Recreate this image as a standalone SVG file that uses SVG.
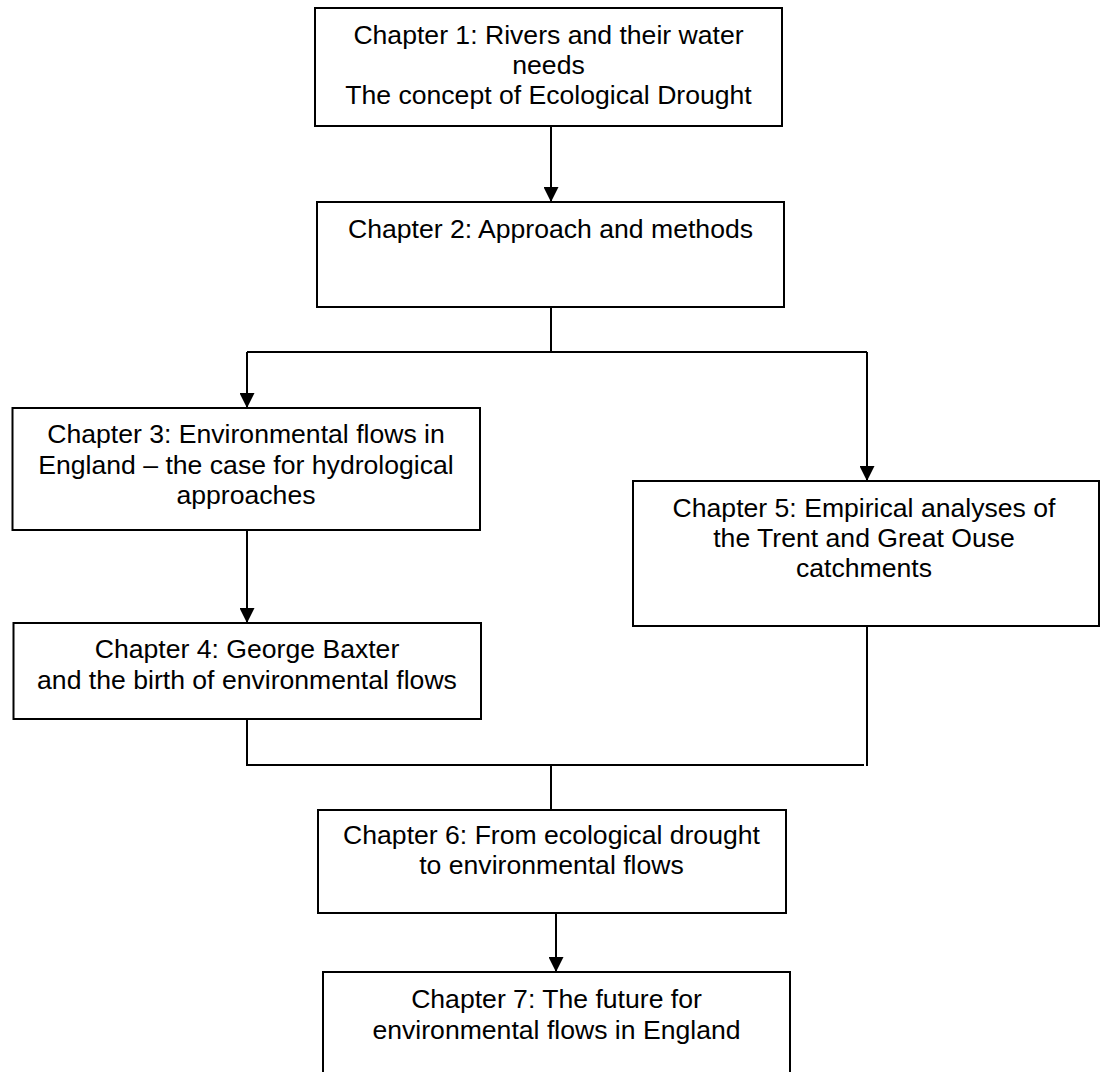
<svg xmlns="http://www.w3.org/2000/svg" width="1104" height="1072" viewBox="0 0 1104 1072">
<style>
.box{fill:#fff;stroke:#000;stroke-width:2}
.t{font-family:"Liberation Sans",Arial,sans-serif;font-size:26.6px;fill:#000;text-anchor:middle}
.c{fill:none;stroke:#000;stroke-width:2}
</style>
<defs>
<marker id="ah" viewBox="0 0 15 15" refX="15" refY="7.5" markerWidth="15" markerHeight="15" markerUnits="userSpaceOnUse" orient="auto">
<path d="M0,0 L15,7.5 L0,15 Z" fill="#000"/>
</marker>
</defs>
<rect width="1104" height="1072" fill="#fff"/>
<g id="connectors">
<line class="c" x1="551" y1="126" x2="551" y2="202" marker-end="url(#ah)"/>
<polyline class="c" points="551,307 551,352"/>
<polyline class="c" points="247,352 867,352"/>
<line class="c" x1="247" y1="352" x2="247" y2="408" marker-end="url(#ah)"/>
<line class="c" x1="867" y1="352" x2="867" y2="481" marker-end="url(#ah)"/>
<line class="c" x1="247" y1="531" x2="247" y2="623" marker-end="url(#ah)"/>
<polyline class="c" points="247,719 247,765 864,765"/>
<polyline class="c" points="867,626 867,766"/>
<polyline class="c" points="551,765 551,810"/>
<line class="c" x1="556" y1="912" x2="556" y2="972" marker-end="url(#ah)"/>
</g>
<g id="ch1">
<rect class="box" x="315" y="8" width="467" height="118"/>
<text class="t" x="548.5" y="44">Chapter 1: Rivers and their water</text>
<text class="t" x="548.5" y="74">needs</text>
<text class="t" x="548.5" y="104">The concept of Ecological Drought</text>
</g>
<g id="ch2">
<rect class="box" x="317" y="202" width="467" height="105"/>
<text class="t" x="550.5" y="238">Chapter 2: Approach and methods</text>
</g>
<g id="ch3">
<rect class="box" x="12.5" y="408" width="467.5" height="122"/>
<text class="t" x="246" y="443">Chapter 3: Environmental flows in</text>
<text class="t" x="246" y="474">England – the case for hydrological</text>
<text class="t" x="246" y="504">approaches</text>
</g>
<g id="ch4">
<rect class="box" x="13.5" y="623" width="467.5" height="96"/>
<text class="t" x="247" y="658">Chapter 4: George Baxter</text>
<text class="t" x="247" y="689">and the birth of environmental flows</text>
</g>
<g id="ch5">
<rect class="box" x="633" y="481" width="466" height="145"/>
<text class="t" x="864" y="517">Chapter 5: Empirical analyses of</text>
<text class="t" x="864" y="547">the Trent and Great Ouse</text>
<text class="t" x="864" y="577">catchments</text>
</g>
<g id="ch6">
<rect class="box" x="318" y="810" width="468" height="103"/>
<text class="t" x="551.5" y="844">Chapter 6: From ecological drought</text>
<text class="t" x="551.5" y="874">to environmental flows</text>
</g>
<g id="ch7">
<rect class="box" x="323" y="972" width="467" height="110"/>
<text class="t" x="556.5" y="1008">Chapter 7: The future for</text>
<text class="t" x="556.5" y="1039">environmental flows in England</text>
</g>
</svg>
